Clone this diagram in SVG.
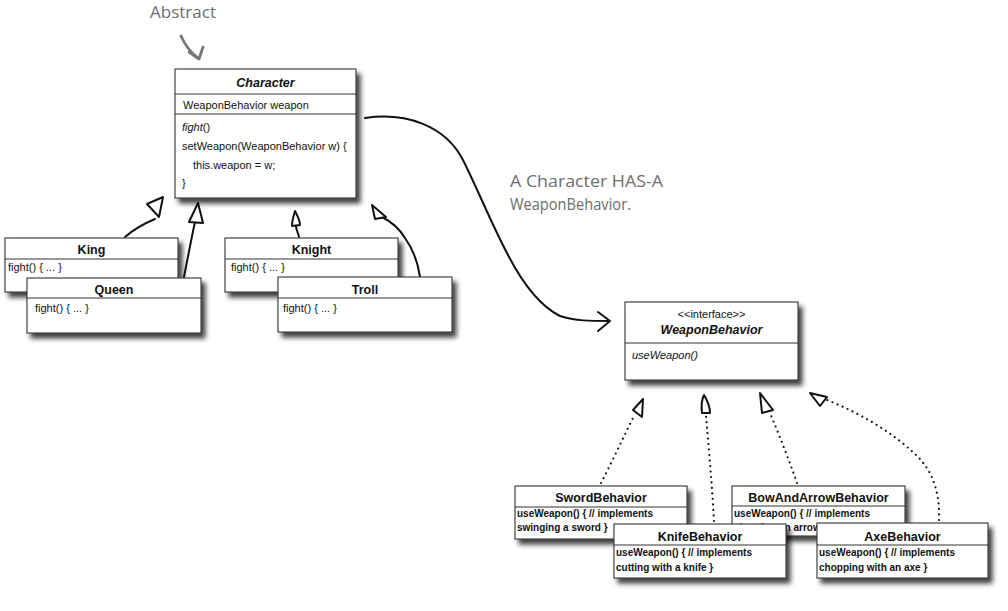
<svg xmlns="http://www.w3.org/2000/svg" width="1008" height="611" viewBox="0 0 1008 611">
<defs>
<filter id="sh" x="-10%" y="-10%" width="125%" height="140%">
<feDropShadow dx="4" dy="5" stdDeviation="2.6" flood-color="#000" flood-opacity="0.75"/>
</filter>
</defs>
<style>
.box{fill:#fff;stroke:#333;stroke-width:1.1;filter:url(#sh)}
.sep{stroke:#333;stroke-width:1}
text{font-family:"Liberation Sans",Arial,sans-serif;fill:#111}
.t{font-size:12.5px;font-weight:bold;text-anchor:middle}
.ti{font-size:12.5px;font-weight:bold;font-style:italic;text-anchor:middle}
.m{font-size:11px}
.mi{font-size:11px;font-style:italic}
.b{font-size:10px;font-weight:bold}
.hand{font-family:"Open Sans","Liberation Sans",sans-serif;fill:#6e6e6e;font-size:17px}
.ln{fill:none;stroke:#111;stroke-width:2;stroke-linecap:round;stroke-linejoin:round}
.hd{fill:#fff;stroke:#111;stroke-width:2;stroke-linejoin:round}
.dot{fill:none;stroke:#111;stroke-width:2.2;stroke-linecap:round;stroke-dasharray:0 5.5}
</style>

<g id="labels">
<text class="hand" x="150" y="18" textLength="66" lengthAdjust="spacingAndGlyphs">Abstract</text>
<path d="M181,36 C185,45 190,52 198,58" fill="none" stroke="#777" stroke-width="2.8" stroke-linecap="round"/>
<path d="M189,52 L199,59 L203,47" fill="none" stroke="#777" stroke-width="2.8" stroke-linecap="round" stroke-linejoin="round"/>
<text class="hand" x="510" y="187" textLength="153" lengthAdjust="spacingAndGlyphs">A Character HAS-A</text>
<text class="hand" x="510" y="210" textLength="121" lengthAdjust="spacingAndGlyphs">WeaponBehavior.</text>
</g>

<g id="connectors">
<path class="ln" d="M125,237 C133,230 143,224 155,219"/>
<path class="hd" d="M147,204 L163,197 L159,217 Z"/>
<path class="ln" d="M184,277 C187,262 191,240 195,222"/>
<path class="hd" d="M189,222 L198,203 L203,223 Z"/>
<path class="ln" d="M299,237 C298,233 296,229 296,226"/>
<path class="hd" d="M292,226 C292,220 294,215 295,211 C297,215 300,220 300,225 Z"/>
<path class="ln" d="M420,277 C418,262 412,248 405,238 C399,228 392,222 382,217"/>
<path class="hd" d="M372,205 L375,219 L386,217 Z"/>
<path class="ln" d="M365,118 C405,112 445,125 463,160 C478,190 492,225 508,255 C522,282 538,305 560,316 C575,321 592,321 609,321"/>
<path class="ln" d="M598,312 L610,321 L598,331"/>

<path class="dot" d="M601,483 C612,462 622,440 633,418"/>
<path class="hd" d="M633,410 L643,399 L642,417 Z"/>
<path class="dot" d="M714,521 C712,485 709,450 706,416"/>
<path class="hd" d="M702,413 C701,405 702,399 704,395 C707,400 710,406 710,413 Z"/>
<path class="dot" d="M797,483 C789,460 780,437 770,413"/>
<path class="hd" d="M760,393 L762,413 L773,410 Z"/>
<path class="dot" d="M939,520 C940,495 934,472 916,455 C893,433 862,414 827,400"/>
<path class="hd" d="M810,393 L820,406 L827,397 Z"/>
</g>

<g id="character">
<rect class="box" x="175" y="69" width="181" height="129"/>
<line class="sep" x1="175" y1="94" x2="356" y2="94"/>
<line class="sep" x1="175" y1="114" x2="356" y2="114"/>
<text class="ti" x="265.5" y="87">Character</text>
<text class="m" x="183" y="109">WeaponBehavior weapon</text>
<text class="mi" x="182" y="131">fight<tspan font-style="normal">()</tspan></text>
<text class="m" x="182" y="150">setWeapon(WeaponBehavior w) {</text>
<text class="m" x="193" y="169">this.weapon = w;</text>
<text class="m" x="182" y="187">}</text>
</g>

<g id="king">
<rect class="box" x="5" y="238" width="173" height="54"/>
<line class="sep" x1="5" y1="259" x2="178" y2="259"/>
<text class="t" x="91.5" y="254">King</text>
<text class="m" x="8" y="271">fight() { ... }</text>
</g>
<g id="queen">
<rect class="box" x="27" y="278" width="174" height="55"/>
<line class="sep" x1="27" y1="298" x2="201" y2="298"/>
<text class="t" x="114" y="294">Queen</text>
<text class="m" x="35" y="312">fight() { ... }</text>
</g>
<g id="knight">
<rect class="box" x="225" y="238" width="173" height="54"/>
<line class="sep" x1="225" y1="259" x2="398" y2="259"/>
<text class="t" x="311.5" y="254">Knight</text>
<text class="m" x="231" y="271">fight() { ... }</text>
</g>
<g id="troll">
<rect class="box" x="278" y="277" width="174" height="55"/>
<line class="sep" x1="278" y1="298" x2="452" y2="298"/>
<text class="t" x="365" y="294">Troll</text>
<text class="m" x="283" y="312">fight() { ... }</text>
</g>

<g id="weaponbehavior">
<rect class="box" x="625" y="302" width="173" height="78"/>
<line class="sep" x1="625" y1="343" x2="798" y2="343"/>
<text class="m" x="711.5" y="318" text-anchor="middle">&lt;&lt;interface&gt;&gt;</text>
<text class="ti" x="711.5" y="334">WeaponBehavior</text>
<text class="mi" x="632" y="359">useWeapon()</text>
</g>

<g id="sword">
<rect class="box" x="515" y="486" width="172" height="53"/>
<line class="sep" x1="515" y1="507" x2="687" y2="507"/>
<text class="t" x="601" y="502">SwordBehavior</text>
<text class="b" x="517" y="517">useWeapon() { // implements</text>
<text class="b" x="517" y="531">swinging a sword }</text>
</g>
<g id="bowandarrow">
<rect class="box" x="732" y="486" width="173" height="50"/>
<line class="sep" x1="732" y1="506" x2="905" y2="506"/>
<text class="t" x="818.5" y="502">BowAndArrowBehavior</text>
<text class="b" x="734" y="517">useWeapon() { // implements</text>
<text class="b" x="734" y="531">shooting an arrow with a bow }</text>
</g>
<g id="knife">
<rect class="box" x="614" y="524" width="172" height="54"/>
<line class="sep" x1="614" y1="545" x2="786" y2="545"/>
<text class="t" x="700" y="541">KnifeBehavior</text>
<text class="b" x="616" y="556">useWeapon() { // implements</text>
<text class="b" x="616" y="571">cutting with a knife }</text>
</g>
<g id="axe">
<rect class="box" x="817" y="523" width="171" height="55"/>
<line class="sep" x1="817" y1="545" x2="988" y2="545"/>
<text class="t" x="902.5" y="541">AxeBehavior</text>
<text class="b" x="819" y="556">useWeapon() { // implements</text>
<text class="b" x="819" y="571">chopping with an axe }</text>
</g>
</svg>
